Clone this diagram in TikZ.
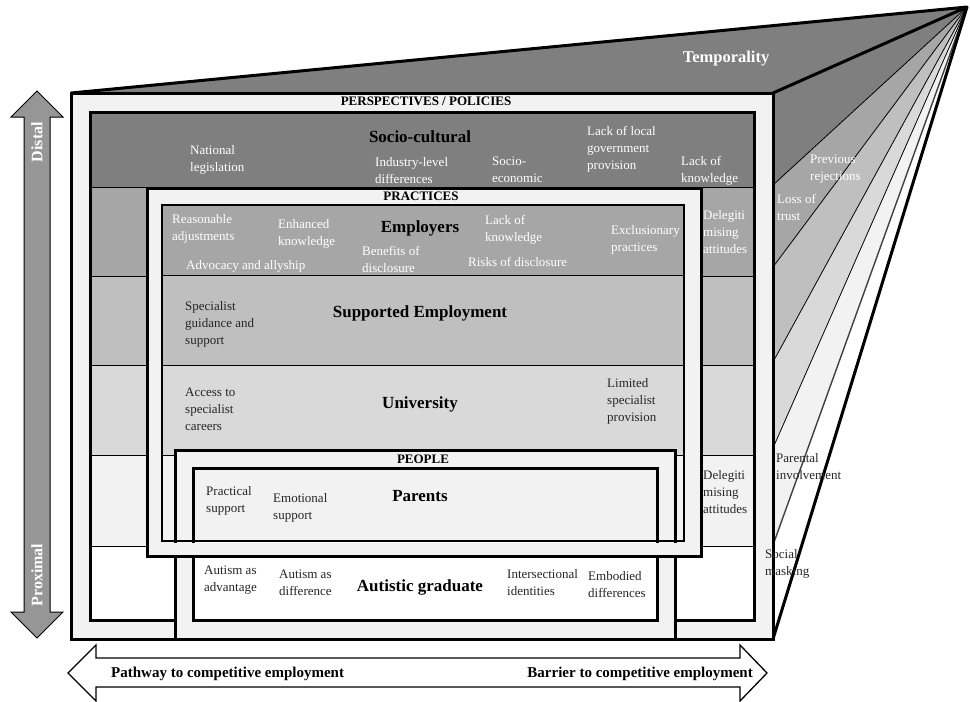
\documentclass[tikz,border=0pt]{standalone}
\usepackage{fontspec}
\setmainfont{Liberation Serif}
\definecolor{cA}{HTML}{7F7F7F}
\definecolor{cB}{HTML}{A6A6A6}
\definecolor{cC}{HTML}{BFBFBF}
\definecolor{cD}{HTML}{D9D9D9}
\definecolor{cE}{HTML}{F2F2F2}
\definecolor{dtext}{HTML}{262626}
\definecolor{arrgrey}{HTML}{969696}
\begin{document}
\begin{tikzpicture}[x=1pt,y=-1pt,
  thickb/.style={line width=3pt},
  sep/.style={line width=0.8pt},
  small/.style={font=\fontsize{13}{17}\selectfont, align=left, inner sep=0pt, anchor=west},
  wtxt/.style={small, text=white},
  dtxt/.style={small, text=dtext},
  lbl/.style={font=\fontsize{17}{20}\selectfont\bfseries, inner sep=0pt},
  capsl/.style={font=\fontsize{13}{15}\selectfont\bfseries, inner sep=0pt},
  arrtxt/.style={font=\fontsize{15}{18}\selectfont\bfseries, inner sep=0pt, anchor=west},
  vtxt/.style={font=\fontsize{16}{18}\selectfont\bfseries, text=white, inner sep=0pt, rotate=90}]
\useasboundingbox (0,0) rectangle (970,702);
\coordinate (apex) at (967,7);
% ---------- right face (temporality fan)
\fill[cA] (apex) -- (773,93) -- (773,185) -- cycle;
\fill[cB] (apex) -- (773,185) -- (773,267) -- cycle;
\fill[cC] (apex) -- (773,267) -- (773,362) -- cycle;
\fill[cD] (apex) -- (773,362) -- (773,448) -- cycle;
\fill[cE] (apex) -- (773,448) -- (773,545) -- cycle;
\fill[white] (apex) -- (773,545) -- (773,639) -- cycle;
\draw[sep] (apex) -- (773,185);
\draw[sep] (apex) -- (773,267);
\draw[sep] (apex) -- (773,362);
\draw[sep] (apex) -- (773,448);
\draw[line width=1.4pt, draw=black!75] (apex) -- (773,545);
% ---------- top face
\fill[cA] (71,93) -- (apex) -- (773,93) -- cycle;
\draw[thickb, line join=round] (71,93) -- (apex) -- (773,93);
\draw[thickb, line join=round] (apex) -- (773,639);
% ---------- outer box (perspectives / policies)
\draw[thickb, fill=cE] (71,93) rectangle (773,639);
% ---------- socio-cultural box rows
\fill[cA] (90,112) rectangle (754,187);
\fill[cB] (90,187) rectangle (754,276);
\fill[cC] (90,276) rectangle (754,365);
\fill[cD] (90,365) rectangle (754,455);
\fill[cE] (90,455) rectangle (754,546);
\fill[white] (90,546) rectangle (754,620);
\foreach \yy in {187,276,365,455,546} \draw[sep] (90,\yy) -- (754,\yy);
\draw[thickb] (90,112) rectangle (754,620);
% ---------- practices box
\draw[thickb, fill=cE] (147,188) rectangle (701,556);
\fill[cB] (162,205) rectangle (684,275);
\fill[cC] (162,275) rectangle (684,365);
\fill[cD] (162,365) rectangle (684,455);
\fill[cE] (162,455) rectangle (684,541);
\foreach \yy in {275,365,455} \draw[sep] (162,\yy) -- (684,\yy);
\draw[line width=2.5pt] (162,205) rectangle (684,541);
% ---------- people box
\draw[thickb, fill=cE] (175,450) rectangle (675,639);
\fill[white] (193,468) rectangle (657,620);
\fill[cE] (193,468) rectangle (657,541);
\draw[thickb] (193,468) rectangle (657,620);
% practices bottom margin laid over the people box
\fill[cE] (148.5,542.5) rectangle (699.5,554.5);
\draw[line width=2.5pt] (160.75,541) -- (685.25,541);
\draw[thickb] (145.5,556) -- (702.5,556);
% ---------- left arrow (distal / proximal)
\draw[line width=1pt, fill=arrgrey, line join=miter]
  (37,91) -- (63,117) -- (50,117) -- (50,612) -- (63,612) -- (37,638)
  -- (11,612) -- (24,612) -- (24,117) -- (11,117) -- cycle;
\node[vtxt] (distal) at (37,142) {Distal};
\node[vtxt] (proximal) at (37,575) {Proximal};
% ---------- bottom arrow
\draw[line width=1.3pt, fill=white, line join=miter]
  (68,673) -- (96,645) -- (96,658) -- (740,658) -- (740,645) -- (767,673)
  -- (740,701) -- (740,687) -- (96,687) -- (96,701) -- cycle;
\node[arrtxt] (pathway) at (111,674) {Pathway to competitive employment};
\node[arrtxt, anchor=east] (barrier) at (753,674) {Barrier to competitive employment};
% ---------- headers
\node[font=\fontsize{16.5}{18}\selectfont\bfseries, text=white, inner sep=0pt] (temp) at (726,59) {Temporality};
\node[capsl] (persp) at (426,101) {PERSPECTIVES / POLICIES};
\node[capsl] (pract) at (421,196) {PRACTICES};
\node[capsl] (people) at (423,459) {PEOPLE};
% ---------- socio-cultural row
\node[lbl] (socio) at (420,137) {Socio-cultural};
\node[wtxt] (natleg) at (190,160) {National\\legislation};
\node[wtxt] (indlev) at (375,171) {Industry-level\\differences};
\node[wtxt] (socec) at (492,170) {Socio-\\economic};
\node[wtxt] (lacklocal) at (587,149) {Lack of local\\government\\provision};
\node[wtxt] (lackknow1) at (681,171) {Lack of\\knowledge};
% ---------- employers row
\node[lbl] (employers) at (420,228) {Employers};
\node[wtxt] (reasadj) at (172,229) {Reasonable\\adjustments};
\node[wtxt] (enhknow) at (278,234) {Enhanced\\knowledge};
\node[wtxt] (benefits) at (362,259) {Benefits of\\disclosure};
\node[wtxt] (advocacy) at (186,266) {Advocacy and allyship};
\node[wtxt] (lackknow2) at (485,230) {Lack of\\knowledge};
\node[wtxt] (risks) at (468,262) {Risks of disclosure};
\node[wtxt] (exclus) at (611,240) {Exclusionary\\practices};
\node[wtxt] (deleg1) at (703,232) {Delegiti\\mising\\attitudes};
% ---------- supported employment row
\node[lbl] (supported) at (420,313) {Supported Employment};
\node[dtxt] (specguid) at (185,324) {Specialist\\guidance and\\support};
% ---------- university row
\node[lbl] (university) at (420,404) {University};
\node[dtxt] (access) at (185,409) {Access to\\specialist\\careers};
\node[dtxt] (limited) at (607,401) {Limited\\specialist\\provision};
% ---------- parents row
\node[lbl] (parents) at (420,496) {Parents};
\node[dtxt] (practical) at (206,501) {Practical\\support};
\node[dtxt] (emotional) at (273,508) {Emotional\\support};
\node[dtxt] (deleg2) at (703,492) {Delegiti\\mising\\attitudes};
% ---------- autistic graduate row
\node[lbl] (autistic) at (420,587) {Autistic graduate};
\node[dtxt] (advantage) at (204,580) {Autism as\\advantage};
\node[dtxt] (difference) at (279,583) {Autism as\\difference};
\node[dtxt] (intersect) at (507,583) {Intersectional\\identities};
\node[dtxt] (embodied) at (588,585) {Embodied\\differences};
% ---------- right face labels
\node[wtxt] (prevrej) at (810,169) {Previous\\rejections};
\node[wtxt] (losstrust) at (777,207) {Loss of\\trust};
\node[dtxt] (parental) at (776,467) {Parental\\involvement};
\node[dtxt] (masking) at (765,564) {Social\\masking};
\end{tikzpicture}
\end{document}
